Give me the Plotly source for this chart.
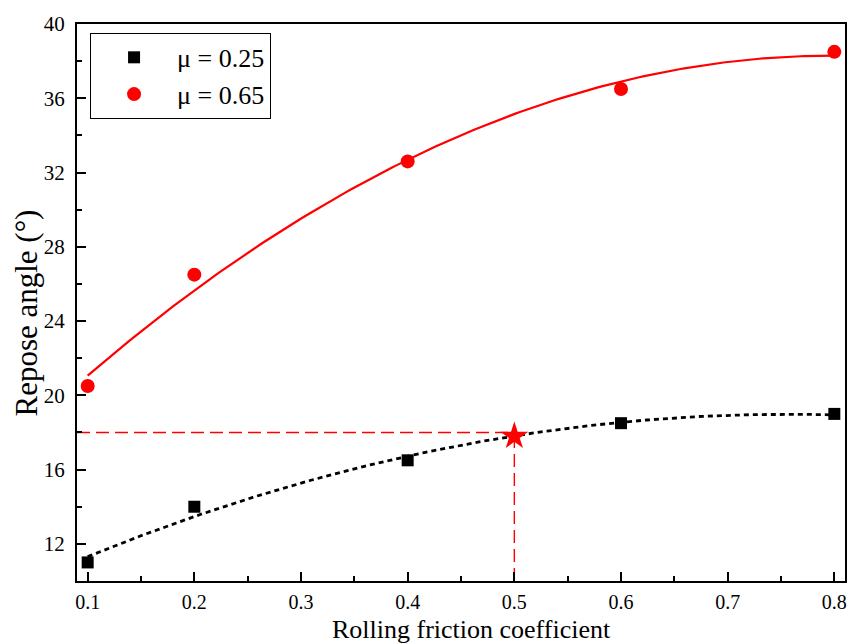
import numpy as np
import plotly.graph_objects as go

x_vals = [0.1, 0.2, 0.4, 0.6, 0.8]
y_mu025 = [11.0, 14.0, 16.5, 18.5, 19.0]
y_mu065 = [20.5, 26.5, 32.6, 36.5, 38.5]
names = ["μ = 0.25", "μ = 0.65"]
star_x = [0.5]
star_y = [17.8]
ref_y = 18.0
x_ticks = [0.1, 0.2, 0.3, 0.4, 0.5, 0.6, 0.7, 0.8]
y_ticks = [12, 16, 20, 24, 28, 32, 36, 40]
x_title = "Rolling friction coefficient"
y_title = "Repose angle (°)"

xs = np.linspace(0.1, 0.8, 200)
fit1 = np.polyval(np.polyfit(x_vals, y_mu025, 2), xs)
fit2 = np.polyval(np.polyfit(x_vals, y_mu065, 2), xs)

FONT = "Liberation Serif, Times New Roman, serif"

fig = go.Figure()
# reference dashed lines
fig.add_trace(go.Scatter(x=[0.09, star_x[0]], y=[ref_y, ref_y], mode="lines",
                         line=dict(color="red", width=1.4, dash="13px,6px"), showlegend=False))
fig.add_trace(go.Scatter(x=[star_x[0], star_x[0]], y=[10, star_y[0]], mode="lines",
                         line=dict(color="red", width=1.4, dash="13px,6px"), showlegend=False))
# fits
fig.add_trace(go.Scatter(x=xs, y=fit1, mode="lines",
                         line=dict(color="black", width=2.8, dash="5px,4px"), showlegend=False))
fig.add_trace(go.Scatter(x=xs, y=fit2, mode="lines",
                         line=dict(color="red", width=2.2), showlegend=False))
# data
fig.add_trace(go.Scatter(x=x_vals, y=y_mu025, mode="markers", name=names[0],
                         marker=dict(symbol="square", size=12, color="black")))
fig.add_trace(go.Scatter(x=x_vals, y=y_mu065, mode="markers", name=names[1],
                         marker=dict(symbol="circle", size=14, color="red")))
fig.add_trace(go.Scatter(x=star_x, y=star_y, mode="markers", showlegend=False,
                         marker=dict(symbol="star", size=21, color="red")))

fig.update_layout(
    width=861, height=644,
    margin=dict(l=77, r=16, t=20, b=63),
    plot_bgcolor="white", paper_bgcolor="white",
    font=dict(family=FONT, color="black"),
    legend=dict(x=0.017, y=0.984, xanchor="left", yanchor="top",
                bordercolor="black", borderwidth=1, bgcolor="white",
                font=dict(size=26, family=FONT), itemwidth=76,
                tracegroupgap=0),
    annotations=[
        dict(text=x_title, xref="paper", yref="paper", x=0.514, y=-0.0578,
             xanchor="center", yanchor="top", showarrow=False,
             font=dict(size=26, family=FONT)),
        dict(text=y_title, xref="paper", yref="paper", x=-0.0658, y=0.481,
             xanchor="center", yanchor="middle", textangle=-90, showarrow=False,
             font=dict(size=31, family=FONT)),
    ],
)
fig.update_xaxes(
    range=[0.09, 0.81], tickvals=x_ticks, ticktext=[f"{v:.1f}" for v in x_ticks],
    ticks="inside", ticklen=9, tickwidth=2, tickcolor="black",
    minor=dict(ticks="inside", ticklen=5, tickwidth=2, tickcolor="black", dtick=0.05, tick0=0.05),
    showline=True, linewidth=2, linecolor="black", mirror=True, showgrid=False, zeroline=False,
    tickfont=dict(size=20, family=FONT), ticklabelstandoff=2,
)
fig.update_yaxes(
    range=[10, 40], tickvals=y_ticks,
    ticks="inside", ticklen=9, tickwidth=2, tickcolor="black",
    minor=dict(ticks="inside", ticklen=5, tickwidth=2, tickcolor="black", dtick=2, tick0=0),
    showline=True, linewidth=2, linecolor="black", mirror=True, showgrid=False, zeroline=False,
    tickfont=dict(size=21, family=FONT), ticklabelstandoff=6,
)
fig.write_html("out.html")
